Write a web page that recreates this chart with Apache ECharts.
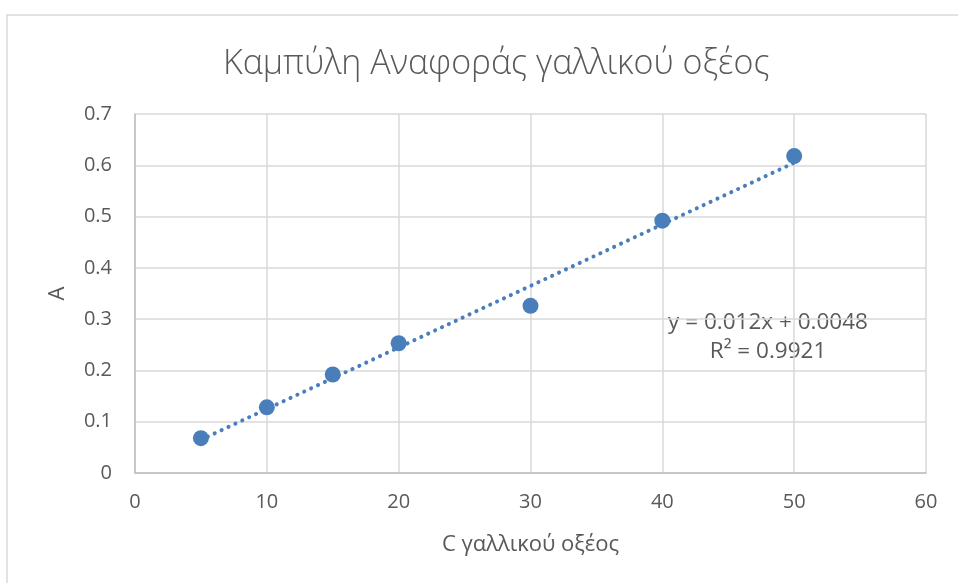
<!DOCTYPE html>
<html>
<head>
<meta charset="utf-8">
<script src="https://cdn.jsdelivr.net/npm/echarts@6/dist/echarts.min.js"></script>
<style>
html, body { margin: 0; padding: 0; background: #fff; }
#chart { width: 958px; height: 583px; }
</style>
</head>
<body>
<div id="chart"></div>
<script>
// δεδομένα καμπύλης αναφοράς
var concentrations = [5, 10, 15, 20, 30, 40, 50];
var absorbances = [0.068, 0.128, 0.192, 0.253, 0.326, 0.492, 0.618];
var yTicks = [0, 0.1, 0.2, 0.3, 0.4, 0.5, 0.6, 0.7];
var xTicks = [0, 10, 20, 30, 40, 50, 60];
// γραμμή τάσης (όπως δίνεται στην εξίσωση)
var slope = 0.012;
var intercept = 0.0048;
var rSquared = 0.9921;

var points = concentrations.map(function (c, i) { return [c, absorbances[i]]; });
var xFirst = concentrations[0];
var xLast = concentrations[concentrations.length - 1];
var trend = [[xFirst, slope * xFirst + intercept], [xLast, slope * xLast + intercept]];

var font = '"Open Sans", "Noto Sans", sans-serif';
var grey = '#595959';

var myChart = echarts.init(document.getElementById('chart'));
var option = {
    backgroundColor: '#fff',
    animation: false,
    title: {
        text: 'Καμπύλη Αναφοράς γαλλικού οξέος',
        left: 218,
        top: 42,
        textStyle: { fontFamily: font, fontSize: 34, fontWeight: 300, color: grey }
    },
    grid: { left: 135, right: 32, top: 114, bottom: 110 },
    xAxis: {
        type: 'value',
        min: xTicks[0],
        max: xTicks[xTicks.length - 1],
        interval: 10,
        name: 'C γαλλικού οξέος',
        nameLocation: 'middle',
        nameGap: 61,
        nameTextStyle: { fontFamily: font, fontSize: 22, color: grey },
        axisLine: { lineStyle: { color: '#bfbfbf', width: 1.5 } },
        axisTick: { show: false },
        axisLabel: { fontFamily: font, fontSize: 20, color: grey, margin: 19 },
        splitLine: { lineStyle: { color: '#d9d9d9', width: 1.5 } }
    },
    yAxis: {
        type: 'value',
        min: yTicks[0],
        max: yTicks[yTicks.length - 1],
        interval: 0.1,
        name: 'A',
        nameLocation: 'middle',
        nameGap: 66,
        nameRotate: 90,
        nameTextStyle: { fontFamily: font, fontSize: 22, color: grey },
        axisLine: { show: true, lineStyle: { color: '#bfbfbf', width: 1.5 } },
        axisTick: { show: false },
        axisLabel: { fontFamily: font, fontSize: 20, color: grey, margin: 23,
            formatter: function (v) { return String(Math.round(v * 10) / 10); } },
        splitLine: { lineStyle: { color: '#d9d9d9', width: 1.5 } }
    },
    graphic: [
        {
            type: 'rect',
            shape: { x: 7, y: 15, width: 1000, height: 1000 },
            style: { fill: 'none', stroke: '#d9d9d9', lineWidth: 1.5 },
            silent: true
        },
        {
            type: 'text',
            x: 768,
            y: 337,
            style: {
                text: 'y = ' + slope + 'x + ' + intercept + '\nR² = ' + rSquared,
                align: 'center',
                verticalAlign: 'middle',
                fontFamily: font,
                fontSize: 22.5,
                lineHeight: 29,
                fill: grey
            }
        }
    ],
    series: [
        {
            type: 'line',
            data: trend,
            symbol: 'none',
            z: 1,
            lineStyle: { color: '#4a7ebb', width: 4, type: [0.1, 7.5], cap: 'round' }
        },
        {
            type: 'scatter',
            data: points,
            symbolSize: 16,
            z: 3,
            itemStyle: { color: '#4a7ebb', opacity: 1 }
        }
    ]
};
myChart.setOption(option);
</script>
</body>
</html>
